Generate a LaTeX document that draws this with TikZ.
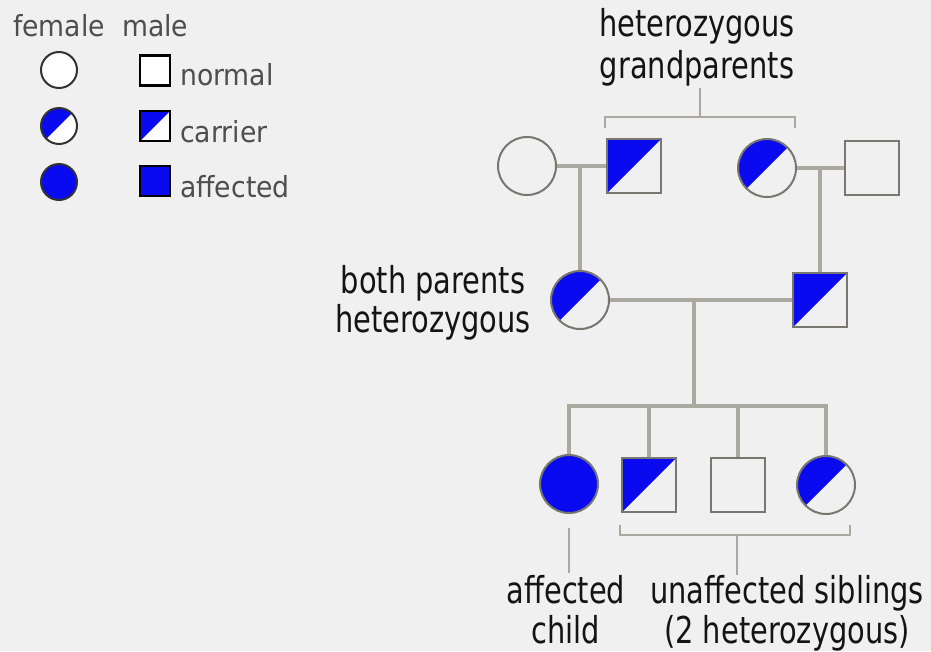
\documentclass[tikz,border=0pt]{standalone}
\usepackage{fontspec}
\setmainfont{DejaVu Sans}[FakeStretch=0.78]
\newfontfamily\legfont{DejaVu Sans}[FakeStretch=0.92]
\definecolor{bg}{HTML}{F0F0F0}
\definecolor{pblue}{HTML}{0A0AF0}
\definecolor{lineg}{HTML}{A9A99F}
\definecolor{symg}{HTML}{77776F}
\definecolor{legtxt}{HTML}{4E4E4E}
\definecolor{maintxt}{HTML}{141414}
\tikzset{
  sym/.style={draw=symg, line width=2pt, inner sep=0pt},
  fem/.style={sym, circle, minimum size=58pt},
  mal/.style={sym, rectangle, minimum size=54pt},
  lfem/.style={circle, draw=black!80, fill=white, line width=2pt, minimum size=36pt, inner sep=0pt},
  lmal/.style={rectangle, draw=black, fill=white, line width=2.5pt, minimum size=30pt, inner sep=0pt},
  carrier/.style={path picture={\fill[pblue] (path picture bounding box.north west) -- (path picture bounding box.north east) -- (path picture bounding box.south west) -- cycle;}},
  affected/.style={fill=pblue},
  pline/.style={draw=lineg, line width=3.5pt},
  brk/.style={draw=lineg, line width=2pt},
  mtext/.style={text=maintxt, font=\fontsize{37}{40}\selectfont, inner sep=0pt, anchor=base},
  ltext/.style={text=legtxt, font=\legfont\fontsize{29}{30}\selectfont, inner sep=0pt, anchor=base west}
}
\begin{document}
\begin{tikzpicture}[x=1pt,y=-1pt]
\fill[bg] (0,0) rectangle (931,651);
\useasboundingbox (0,0) rectangle (931,651);

% legend
\node[ltext] (lfemale) at (13,36) {female};
\node[ltext] (lmale) at (122,36) {male};
\node[lfem] (lf1) at (59,70) {};
\node[lfem, carrier] (lf2) at (59,126) {};
\node[lfem, affected] (lf3) at (59,182) {};
\node[lmal] (lm1) at (155,70.5) {};
\node[lmal, carrier] (lm2) at (155,126) {};
\node[lmal, affected] (lm3) at (155,181) {};
\node[ltext] (lnormal) at (180,85) {normal};
\node[ltext] (lcarrier) at (180,142) {carrier};
\node[ltext] (laffected) at (180,197) {affected};

% grandparents
\node[fem] (gp1) at (527,166) {};
\node[mal, carrier] (gp2) at (634,166) {};
\node[fem, carrier] (gp3) at (767,168) {};
\node[mal] (gp4) at (872,168) {};

% parents
\node[fem, carrier] (mother) at (580,300) {};
\node[mal, carrier] (father) at (820,300) {};

% children
\node[fem, affected] (c1) at (569,484) {};
\node[mal, carrier] (c2) at (649,485) {};
\node[mal] (c3) at (738,485) {};
\node[fem, carrier] (c4) at (826,485) {};

% connectors
\coordinate (m1) at (580,166);
\coordinate (m2) at (820,168);
\coordinate (pm) at (694,300);
\coordinate (sib) at (694,406);
\draw[pline] (gp1.east) -- (gp2.west);
\draw[pline] (gp3.east) -- (gp4.west);
\draw[pline] (m1) -- (mother.north);
\draw[pline] (m2) -- (father.north);
\draw[pline] (mother.east) -- (father.west);
\draw[pline] (pm) -- (sib);
\draw[pline] (c1.north) |- (sib) -| (c4.north);
\draw[pline] (c2.north) -- (c2.north |- sib);
\draw[pline] (c3.north) -- (c3.north |- sib);

% labels
\node[mtext] (gl1) at (697,36) {heterozygous};
\node[mtext] (gl2) at (697,78) {grandparents};
\node[mtext] (pl1) at (433,293) {both parents};
\node[mtext] (pl2) at (433,332) {heterozygous};
\node[mtext] (al1) at (566,603) {affected};
\node[mtext] (al2) at (566,643) {child};
\node[mtext] (ul1) at (787,603) {unaffected siblings};
\node[mtext] (ul2) at (787,643) {(2 heterozygous)};

% top bracket
\coordinate (tb) at (700,88);
\coordinate (tbm) at (700,117);
\coordinate (tbl) at (605,128);
\coordinate (tbr) at (795,128);
\draw[brk] (tb) -- (tbm);
\draw[brk] (tbl) |- (tbm) -| (tbr);

% bottom bracket
\coordinate (bbl) at (620,525);
\coordinate (bbr) at (850,525);
\coordinate (bbm) at (737,535);
\coordinate (bbe) at (737,575);
\draw[brk] (bbl) |- (bbm) -| (bbr);
\draw[brk] (bbm) -- (bbe);

% affected child pointer
\coordinate (ap1) at (569,528);
\coordinate (ap2) at (569,573);
\draw[brk] (ap1) -- (ap2);
\end{tikzpicture}
\end{document}
